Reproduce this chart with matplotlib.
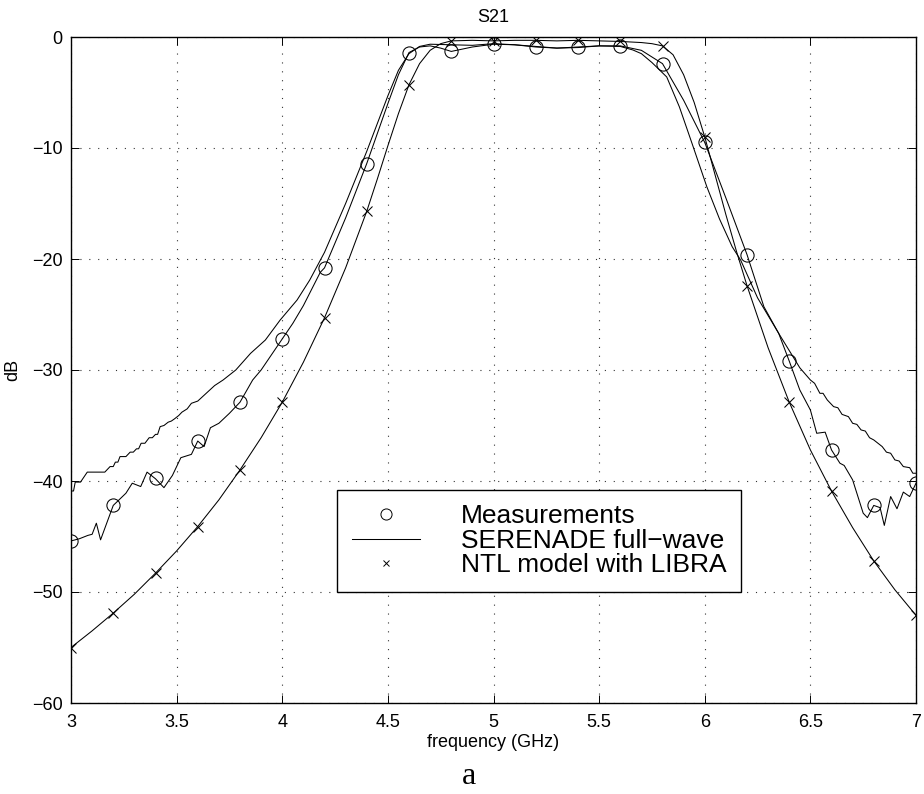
import matplotlib
matplotlib.use("Agg")
import matplotlib.pyplot as plt
from matplotlib.lines import Line2D

# ---------------- data ----------------
# Measurements (dense line)
meas_f = [3.00, 3.04, 3.08, 3.10, 3.12, 3.14, 3.20, 3.26, 3.29, 3.33, 3.36, 3.40,
          3.44, 3.48, 3.52, 3.57, 3.60, 3.63, 3.66, 3.70, 3.75, 3.80, 3.86, 3.90,
          4.00, 4.05, 4.10, 4.18, 4.20, 4.30, 4.40, 4.50, 4.55, 4.60, 4.65, 4.70,
          4.75, 4.80, 4.90, 5.00, 5.10, 5.20, 5.30, 5.40, 5.50, 5.60, 5.70, 5.80,
          5.90, 6.00, 6.10, 6.20, 6.28, 6.35, 6.40, 6.45, 6.50, 6.53, 6.57, 6.60,
          6.64, 6.66, 6.70, 6.72, 6.75, 6.77, 6.80, 6.83, 6.85, 6.88, 6.91, 6.94,
          6.97, 7.00]
meas_db = [-45.4, -45.2, -44.9, -44.8, -43.8, -45.3, -42.2, -41.1, -40.2, -40.5, -39.2, -39.8,
           -40.6, -39.5, -37.9, -37.6, -36.4, -36.9, -35.2, -34.8, -33.9, -32.9, -30.9, -30.0,
           -27.2, -25.8, -24.2, -21.2, -20.8, -16.3, -11.4, -6.0, -3.4, -1.4, -0.9, -0.8,
           -1.0, -1.3, -0.9, -0.65, -0.7, -0.9, -1.0, -0.9, -0.8, -0.8, -1.2, -2.4,
           -5.7, -9.5, -14.5, -19.6, -24.3, -26.7, -29.2, -31.8, -33.6, -35.7, -35.6, -37.2,
           -38.4, -38.6, -39.9, -41.1, -42.9, -43.3, -42.2, -42.4, -44.0, -41.4, -42.5, -41.0,
           -41.4, -40.2]

# Measurement circle markers (every 0.2 GHz)
mark_f = [3.0, 3.2, 3.4, 3.6, 3.8, 4.0, 4.2, 4.4, 4.6, 4.8, 5.0, 5.2, 5.4, 5.6,
          5.8, 6.0, 6.2, 6.4, 6.6, 6.8, 7.0]
meas_mark_db = [-45.4, -42.2, -39.7, -36.4, -32.9, -27.2, -20.8, -11.4, -1.4, -1.3, -0.65,
                -0.9, -0.9, -0.8, -2.4, -9.5, -19.6, -29.2, -37.2, -42.2, -40.2]

# SERENADE full-wave
ser_f = [3.000, 3.012, 3.020, 3.045, 3.077, 3.160, 3.185, 3.200, 3.210, 3.222, 3.232, 3.260,
         3.280, 3.295, 3.310, 3.320, 3.332, 3.350, 3.370, 3.385, 3.400, 3.410, 3.422, 3.440,
         3.460, 3.475, 3.490, 3.510, 3.525, 3.550, 3.570, 3.600, 3.640, 3.680, 3.720, 3.780,
         3.850, 3.920, 3.990, 4.070, 4.130, 4.200, 4.300, 4.400, 4.500, 4.550, 4.600, 4.650,
         4.700, 4.800, 4.900, 5.000, 5.100, 5.200, 5.300, 5.400, 5.500, 5.600, 5.660, 5.700,
         5.750, 5.820, 5.880, 5.940, 6.010, 6.070, 6.130, 6.170, 6.250, 6.350, 6.450, 6.500,
         6.520, 6.545, 6.560, 6.580, 6.610, 6.630, 6.650, 6.680, 6.700, 6.720, 6.740, 6.760,
         6.780, 6.800, 6.820, 6.840, 6.860, 6.880, 6.900, 6.920, 6.940, 6.970, 6.985, 7.000]
ser_db = [-40.9, -40.9, -40.1, -40.1, -39.2, -39.2, -38.7, -38.7, -38.3, -38.3, -37.8, -37.8,
          -37.4, -37.4, -37.1, -37.1, -36.6, -36.6, -36.1, -36.1, -35.8, -35.8, -35.1, -35.0,
          -34.7, -34.6, -34.4, -34.1, -33.8, -33.5, -33.0, -32.8, -32.1, -31.4, -30.9, -30.0,
          -28.5, -27.3, -25.5, -23.7, -21.9, -19.4, -15.0, -10.3, -5.3, -3.0, -1.5, -0.85,
          -0.65, -0.7, -0.75, -0.6, -0.7, -0.85, -1.0, -0.95, -0.8, -0.85, -1.17, -1.5,
          -2.3, -3.6, -6.3, -9.6, -13.5, -16.4, -18.9, -20.1, -23.5, -26.7, -29.8, -30.9,
          -31.2, -32.1, -32.1, -32.7, -33.3, -33.4, -34.0, -34.2, -34.8, -34.9, -35.4, -35.5,
          -36.1, -36.3, -36.6, -36.9, -37.4, -37.5, -38.1, -38.2, -38.7, -38.8, -39.3, -39.3]

# NTL model with LIBRA (dense line)
ntl_f = [3.0, 3.1, 3.2, 3.3, 3.4, 3.5, 3.6, 3.7, 3.8, 3.9, 4.0, 4.1, 4.2, 4.3, 4.4,
         4.45, 4.5, 4.55, 4.6, 4.65, 4.7, 4.75, 4.8, 4.9, 5.0, 5.1, 5.2, 5.3, 5.4, 5.5,
         5.6, 5.7, 5.75, 5.8, 5.85, 5.9, 5.95, 6.0, 6.05, 6.1, 6.15, 6.2, 6.3, 6.4, 6.5,
         6.6, 6.7, 6.8, 6.9, 7.0]
ntl_db = [-55.0, -53.5, -51.9, -50.2, -48.3, -46.3, -44.1, -41.7, -39.0, -36.1, -32.9, -29.3,
          -25.3, -20.8, -15.7, -12.8, -9.8, -6.9, -4.3, -2.4, -1.2, -0.6, -0.35, -0.3, -0.35,
          -0.3, -0.3, -0.35, -0.3, -0.35, -0.4, -0.5, -0.6, -0.8, -1.6, -3.4, -5.9, -9.0,
          -12.5, -16.0, -19.3, -22.4, -28.0, -32.9, -37.2, -40.9, -44.2, -47.2, -49.8, -52.1]

# NTL x markers (every 0.2 GHz)
ntl_mark_db = [-55.0, -51.9, -48.3, -44.1, -39.0, -32.9, -25.3, -15.7, -4.3, -0.35, -0.35,
               -0.3, -0.3, -0.4, -0.8, -9.0, -22.4, -32.9, -40.9, -47.2, -52.1]

xticks = [3, 3.5, 4, 4.5, 5, 5.5, 6, 6.5, 7]
xtick_labels = ["3", "3.5", "4", "4.5", "5", "5.5", "6", "6.5", "7"]
yticks = [-60, -50, -40, -30, -20, -10, 0]
ytick_labels = ["\u221260", "\u221250", "\u221240", "\u221230", "\u221220", "\u221210", "0"]
legend_labels = ["Measurements", "SERENADE full\u2212wave", "NTL model with LIBRA"]

# ---------------- plot ----------------
plt.rcParams["font.family"] = ["Liberation Sans", "DejaVu Sans"]

fig = plt.figure(figsize=(9.24, 7.94), dpi=100)
ax = fig.add_axes([71 / 924, 1 - 703 / 794, 845 / 924, 666 / 794])

lw = 0.75
ax.plot(meas_f, meas_db, color="black", lw=lw)
ax.plot(mark_f, meas_mark_db, linestyle="none", marker="o", ms=9.5,
        mfc="none", mec="black", mew=0.75)
ax.plot(ser_f, ser_db, color="black", lw=lw)
ax.plot(ntl_f, ntl_db, color="black", lw=lw)
ax.plot(mark_f, ntl_mark_db, linestyle="none", marker="x", ms=6.5,
        mec="black", mew=0.75)

ax.set_xlim(3, 7)
ax.set_ylim(-60, 0)
ax.set_xticks(xticks)
ax.set_xticklabels(xtick_labels)
ax.set_yticks(yticks)
ax.set_yticklabels(ytick_labels)
ax.tick_params(direction="in", length=6, width=0.7, top=True, right=True,
               labelsize=13, colors="black")
ax.tick_params(axis="x", pad=8)
ax.tick_params(axis="y", pad=6)
ax.grid(True, color="0.2", linestyle=(0, (1, 7)), linewidth=0.8)
for s in ax.spines.values():
    s.set_linewidth(1.0)
    s.set_color("black")

ax.set_title("S21", fontsize=13, pad=11)
ax.set_xlabel("frequency (GHz)", fontsize=13, labelpad=2)
ax.set_ylabel("dB", fontsize=13, labelpad=8)

handles = [
    Line2D([], [], linestyle="none", marker="o", ms=8, mfc="none", mec="black", mew=0.7),
    Line2D([], [], color="black", lw=0.75),
    Line2D([], [], linestyle="none", marker="x", ms=5, mec="black", mew=0.7),
]
leg = ax.legend(handles, legend_labels, loc="lower left",
                bbox_to_anchor=((337 - 71) / 845, (703 - 592) / 666),
                fontsize=19, frameon=True, fancybox=False, shadow=False,
                handlelength=2.6, handletextpad=1.55, labelspacing=0.02,
                borderpad=0.55, borderaxespad=0.0, framealpha=1)
leg.get_frame().set_edgecolor("black")
leg.get_frame().set_linewidth(1.0)

fig.text(469 / 924, 1 - 777 / 794, "a", fontsize=23, family="Liberation Serif",
         ha="center", va="center")

fig.savefig("out.png", dpi=100)
